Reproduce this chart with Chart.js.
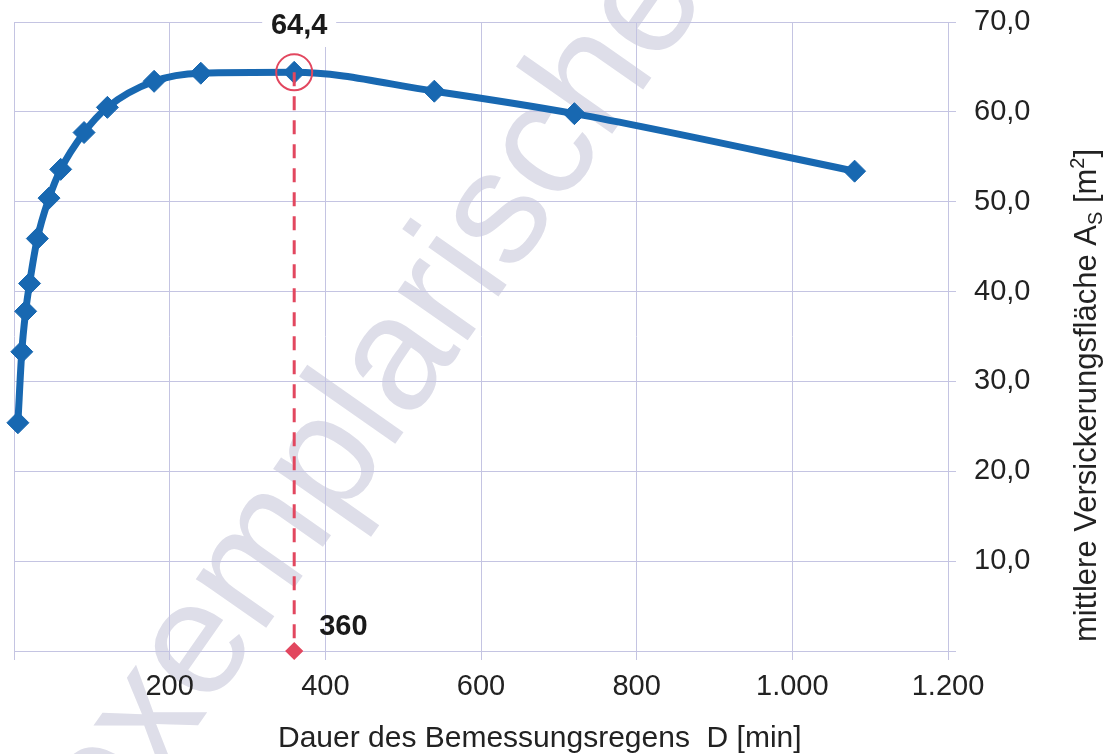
<!DOCTYPE html>
<html>
<head>
<meta charset="utf-8">
<script src="https://cdn.jsdelivr.net/npm/chart.js@4/dist/chart.umd.min.js"></script>
<style>
  html, body { margin: 0; padding: 0; background: #fff; }
</style>
</head>
<body>
<canvas id="myChart" width="1109" height="754"></canvas>
<script>
// Dauer D [min] und mittlere Versickerungsflaeche As [m2]
const durations = [5, 10, 15, 20, 30, 45, 60, 90, 120, 180, 240, 360, 540, 720, 1080];
const areas = [25.4, 33.3, 37.8, 40.9, 45.9, 50.4, 53.6, 57.7, 60.5, 63.4, 64.3, 64.4, 62.3, 59.8, 53.4];

// massgebender Punkt
const markD = 360;
const markA = 64.4;

const xTicks = [0, 200, 400, 600, 800, 1000, 1200];
const yTicks = [0, 10, 20, 30, 40, 50, 60, 70];

const xTitle = 'Dauer des Bemessungsregens  D [min]';
const watermark = 'exemplarische';

const gridColor = '#c4c4e2';
const blue = '#1868b1';
const red = '#e2475f';
const font = 'Liberation Sans, Arial, sans-serif';

function fmtX(v) {
  if (v === 0) return '';
  return String(v).replace(/\B(?=(\d{3})+(?!\d))/g, '.');
}
function fmtY(v) {
  if (v === 0) return '';
  return v.toFixed(1).replace('.', ',');
}

var points = durations.map(function (d, i) { return { x: d, y: areas[i] }; });

// keine automatische Randpolsterung durch Beschriftungen
function noPad(scale) {
  scale.paddingTop = 0;
  scale.paddingBottom = 0;
  scale.paddingLeft = 0;
  scale.paddingRight = 0;
}

// Hintergrund + Wasserzeichen
const backdrop = {
  id: 'backdrop',
  beforeDraw: function (chart) {
    const ctx = chart.ctx;
    ctx.save();
    ctx.fillStyle = '#fff';
    ctx.fillRect(0, 0, chart.width, chart.height);
    ctx.translate(110, 851);
    ctx.rotate(-55 * Math.PI / 180);
    ctx.font = '162px ' + font;
    ctx.fillStyle = '#dedee9';
    ctx.textBaseline = 'alphabetic';
    ctx.fillText(watermark, 0, 0);
    ctx.restore();
  }
};

// Achsentitel und Beschriftung des Punktes
const annotate = {
  id: 'annotate',
  afterDraw: function (chart) {
    const ctx = chart.ctx;
    const xs = chart.scales.x;
    ctx.save();
    ctx.fillStyle = '#222';

    // x-Titel
    ctx.font = '30px ' + font;
    ctx.textAlign = 'left';
    ctx.textBaseline = 'alphabetic';
    ctx.fillText(xTitle, 278, 747);

    // y-Titel, gedreht, mit Index und Exponent
    ctx.save();
    ctx.translate(1096, 642);
    ctx.rotate(-Math.PI / 2);
    var parts = [
      ['mittlere Versickerungsfläche A', 31, 0],
      ['S', 20, 6],
      [' [m', 31, 0],
      ['2', 20, -12],
      [']', 31, 0]
    ];
    var u = 0;
    parts.forEach(function (p) {
      ctx.font = p[1] + 'px ' + font;
      ctx.fillText(p[0], u, p[2]);
      u += ctx.measureText(p[0]).width;
    });
    ctx.restore();

    // Wert-Beschriftungen
    const px = xs.getPixelForValue(markD);
    ctx.font = 'bold 29px ' + font;
    ctx.textAlign = 'center';
    ctx.textBaseline = 'middle';
    ctx.fillStyle = '#fff';
    ctx.fillRect(px - 32, 0, 74, 47);
    ctx.fillStyle = '#1a1a1a';
    ctx.fillText(fmtY(markA), px + 5, 26);
    ctx.textAlign = 'left';
    ctx.fillText(String(markD), px + 25, 627);
    ctx.restore();
  }
};

new Chart('myChart', {
  type: 'line',
  data: {
    datasets: [{
      // roter Kreis
      data: [{ x: markD, y: markA }],
      showLine: false,
      pointStyle: 'circle',
      pointRadius: 18,
      pointBorderWidth: 2,
      pointBorderColor: red,
      pointBackgroundColor: 'rgba(0,0,0,0)',
      clip: false,
      order: 0
    }, {
      // gestrichelte Linie
      data: [{ x: markD, y: markA }, { x: markD, y: 0 }],
      borderColor: red,
      borderWidth: 3,
      borderDash: [14, 10],
      pointStyle: 'rectRot',
      pointRadius: [0, 7],
      pointBackgroundColor: red,
      pointBorderColor: red,
      clip: false,
      order: 1
    }, {
      data: points,
      borderColor: blue,
      backgroundColor: blue,
      borderWidth: 7,
      cubicInterpolationMode: 'monotone',
      pointStyle: 'rectRot',
      pointRadius: 11,
      pointBackgroundColor: blue,
      pointBorderColor: blue,
      pointBorderWidth: 1,
      clip: false,
      order: 2
    }]
  },
  options: {
    responsive: false,
    animation: false,
    events: [],
    layout: { autoPadding: false, padding: { left: 14, top: 22, right: 0, bottom: 0 } },
    plugins: {
      legend: { display: false },
      tooltip: { enabled: false }
    },
    scales: {
      x: {
        type: 'linear',
        min: 0,
        max: 1200,
        afterFit: function (scale) { scale.height = 103; noPad(scale); },
        afterBuildTicks: function (scale) { scale.ticks = xTicks.map(function (v) { return { value: v }; }); },
        grid: { color: gridColor, lineWidth: 1, drawTicks: true, tickLength: 9, tickColor: gridColor },
        border: { color: gridColor },
        ticks: {
          callback: function (v) { return fmtX(v); },
          color: '#222',
          font: { family: font, size: 29 },
          padding: 10,
          maxRotation: 0,
          autoSkip: false
        }
      },
      y: {
        type: 'linear',
        position: 'right',
        min: 0,
        max: 70,
        afterFit: function (scale) { scale.width = 161; noPad(scale); },
        afterBuildTicks: function (scale) { scale.ticks = yTicks.map(function (v) { return { value: v }; }); },
        grid: { color: gridColor, lineWidth: 1, drawTicks: true, tickLength: 8, tickColor: gridColor },
        border: { color: gridColor },
        ticks: {
          callback: function (v) { return fmtY(v); },
          color: '#222',
          font: { family: font, size: 29 },
          padding: 18
        }
      }
    }
  },
  plugins: [backdrop, annotate]
});
</script>
</body>
</html>
